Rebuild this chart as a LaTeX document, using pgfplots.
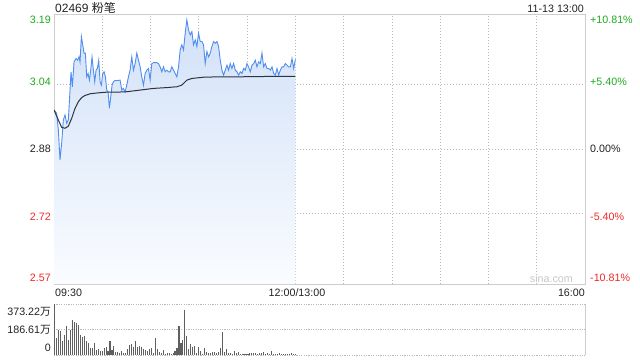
\documentclass[border=0pt]{standalone}
\usepackage{fontspec}
\setmainfont{Liberation Sans}
\newfontfamily\cjk{Noto Sans CJK SC}
\usepackage{pgfplots}
\usepackage{pgfplotstable}
\pgfplotsset{compat=1.18}
\definecolor{pline}{RGB}{79,141,238}
\definecolor{avgc}{RGB}{45,52,64}
\definecolor{upc}{RGB}{30,170,30}
\definecolor{dnc}{RGB}{240,40,40}
\definecolor{txt}{RGB}{34,34,34}
\definecolor{framec}{RGB}{205,205,205}
\definecolor{gridc}{RGB}{185,185,185}
\definecolor{volc}{RGB}{95,95,95}
\definecolor{filltop}{RGB}{210,225,248}
\definecolor{fillbot}{RGB}{250,252,255}

\pgfplotstableread{
m p
0 2.970
1.66 2.962
2.70 2.922
3.73 2.850
4.77 2.890
5.81 2.946
6.85 2.958
7.88 2.938
8.92 2.946
9.96 3.018
10.58 3.062
11.41 3.026
12.45 3.086
13.69 3.094
14.73 3.090
15.56 3.098
16.18 3.086
17.01 3.147
17.84 3.127
18.67 3.107
19.50 3.107
20.33 3.050
21.16 3.058
22.01 3.042
22.82 3.066
23.65 3.098
24.48 3.066
25.31 3.038
26.14 3.066
26.97 3.070
27.80 3.090
28.63 3.038
29.46 3.030
30.29 3.058
31.12 3.062
31.95 3.050
32.78 3.018
33.61 3.014
34.44 2.974
35.27 3.002
36.10 3.030
36.93 3.038
37.97 3.041
39.42 3.041
41.08 3.042
42.12 3.018
43.15 3.022
44.19 3.014
45.23 3.030
46.27 3.050
47.30 3.066
48.34 3.098
49.38 3.066
50.42 3.082
51.45 3.107
52.49 3.090
53.53 3.074
54.56 3.050
55.60 3.030
56.64 3.058
57.68 3.066
58.71 3.070
59.75 3.042
60.79 3.082
61.83 3.084
62.86 3.084
63.90 3.084
64.94 3.082
65.97 3.074
67.01 3.062
68.05 3.074
69.09 3.062
70.12 3.066
71.16 3.062
72.20 3.062
73.24 3.074
74.27 3.066
75.31 3.058
76.35 3.050
77.39 3.074
78.42 3.115
79.46 3.127
80.50 3.115
81.54 3.155
82.57 3.187
83.61 3.163
84.65 3.151
85.69 3.159
86.72 3.127
87.76 3.139
88.80 3.123
89.83 3.155
90.87 3.135
91.91 3.135
92.95 3.127
93.98 3.082
95.02 3.111
96.06 3.098
97.10 3.107
98.13 3.123
99.17 3.135
100.21 3.131
101.25 3.135
102.28 3.123
103.32 3.090
104.36 3.066
105.39 3.054
106.43 3.066
107.47 3.078
108.51 3.066
109.54 3.082
110.58 3.070
111.62 3.082
112.66 3.066
113.69 3.062
114.73 3.054
115.77 3.062
116.81 3.058
117.84 3.070
118.88 3.066
119.92 3.082
120.96 3.074
121.99 3.062
123.03 3.078
124.07 3.082
125.10 3.090
126.14 3.074
127.18 3.086
128.22 3.082
129.25 3.107
130.29 3.074
131.33 3.082
132.37 3.070
133.40 3.070
134.44 3.066
135.48 3.074
136.51 3.058
137.55 3.054
138.59 3.070
139.63 3.054
140.66 3.066
141.70 3.074
142.74 3.074
143.78 3.082
144.81 3.078
145.85 3.074
146.89 3.074
147.93 3.094
148.96 3.070
150.00 3.092
}\price

\pgfplotstableread{
m a
0 2.970
2.70 2.946
4.77 2.928
6.85 2.926
8.92 2.931
10.99 2.950
13.07 2.974
15.14 2.990
17.22 3.000
19.29 3.005
22.41 3.009
26.56 3.011
32.78 3.013
39.00 3.013
45.23 3.014
53.53 3.018
61.83 3.022
70.12 3.024
76.35 3.026
79.46 3.030
82.57 3.042
85.69 3.046
92.95 3.049
103.32 3.050
115.77 3.050
136.51 3.051
150 3.051
}\avg

\pgfplotstableread{
v
373.22
128
185
173
99
148
210
111
180
259
240
235
222
148
131
136
106
86
54
49
91
37
47
30
32
54
62
30
99
37
67
25
20
12
30
17
12
42
74
82
57
99
57
67
57
42
37
30
42
49
12
128
42
25
12
37
5
17
17
5
17
32
54
210
86
111
328
141
42
82
62
67
12
62
30
5
49
25
17
12
25
20
12
25
49
165
25
44
12
12
7
30
12
20
7
7
5
7
5
17
12
12
17
7
12
17
20
7
12
7
30
7
7
7
12
7
5
5
7
7
12
7
5
}\vol

\begin{document}
\begin{tikzpicture}
\useasboundingbox (0,0) rectangle (640bp,-360bp);
% price panel
\begin{axis}[
  at={(54bp,-14bp)}, anchor=north west,
  scale only axis, width=531bp, height=270bp,
  xmin=0, xmax=330, ymin=2.5507, ymax=3.2013,
  axis line style={framec, line width=0.8bp},
  major tick length=0,
  xtick={30,60,...,300}, xticklabels={},
  ytick={2.721,3.031}, yticklabels={},
  extra y ticks={2.876}, extra y tick labels={},
  extra y tick style={grid style={gray!75, line width=0.8bp, dash pattern=on 5bp off 2bp on 1bp off 2bp}},
  grid=major,
  major grid style={gridc, line width=0.8bp, dash pattern=on 1bp off 2bp},
  axis on top=false,
]
\addplot[draw=none, top color=filltop, bottom color=fillbot] table[x=m, y=p] {\price} -- (axis cs:150,2.5507) -- (axis cs:0,2.5507) -- cycle;
\addplot[pline, line width=0.9bp, mark=none] table[x=m, y=p] {\price};
\addplot[avgc, line width=1bp, mark=none] table[x=m, y=a] {\avg};
\end{axis}
% volume panel
\begin{axis}[
  at={(54bp,-304bp)}, anchor=north west,
  scale only axis, width=531bp, height=51bp,
  xmin=0, xmax=330, ymin=0, ymax=373.22,
  axis line style={draw=none},
  major tick length=0,
  xtick=\empty,
  ytick={0,186.61,373.22}, yticklabels={},
  ymajorgrids,
  major grid style={gridc, line width=0.9bp, dash pattern=on 1.2bp off 1.2bp},
  clip=false,
]
\draw[framec, line width=0.8bp] (rel axis cs:0,0) -- (rel axis cs:0,1);
\draw[framec, line width=0.8bp] (rel axis cs:1,0) -- (rel axis cs:1,1);
\addplot[ycomb, volc, line width=1.1bp, mark=none] table[x expr=\coordindex*1.225+0.5, y=v] {\vol};
\end{axis}
% texts
\begin{scope}[every node/.style={inner sep=0pt, font=\fontsize{10.7bp}{12bp}\selectfont}]
\node[anchor=base west, txt, font=\fontsize{12bp}{14bp}\selectfont] at (55bp,-12bp) {02469 {\cjk 粉笔}};
\node[anchor=base east, txt] at (584bp,-12bp) {11-13 13:00};
\node[anchor=east, upc] at (51bp,-20bp) {3.19};
\node[anchor=east, upc] at (51bp,-82bp) {3.04};
\node[anchor=east, txt] at (51bp,-149bp) {2.88};
\node[anchor=east, dnc] at (51bp,-217bp) {2.72};
\node[anchor=east, dnc] at (51bp,-278bp) {2.57};
\node[anchor=west, upc] at (590bp,-20bp) {+10.81\%};
\node[anchor=west, upc] at (590bp,-82bp) {+5.40\%};
\node[anchor=west, txt] at (590bp,-149bp) {0.00\%};
\node[anchor=west, dnc] at (590bp,-217bp) {-5.40\%};
\node[anchor=west, dnc] at (590bp,-278bp) {-10.81\%};
\node[anchor=north west, txt] at (55bp,-289bp) {09:30};
\node[anchor=north, txt] at (297bp,-289bp) {12:00/13:00};
\node[anchor=north east, txt] at (585bp,-289bp) {16:00};
\node[anchor=base east, gray!45] at (573bp,-282bp) {sina.com};
\node[anchor=east, txt] at (51bp,-311.5bp) {373.22{\cjk 万}};
\node[anchor=east, txt] at (51bp,-330bp) {186.61{\cjk 万}};
\node[anchor=east, txt] at (51bp,-348bp) {0};
\end{scope}
\end{tikzpicture}
\end{document}
